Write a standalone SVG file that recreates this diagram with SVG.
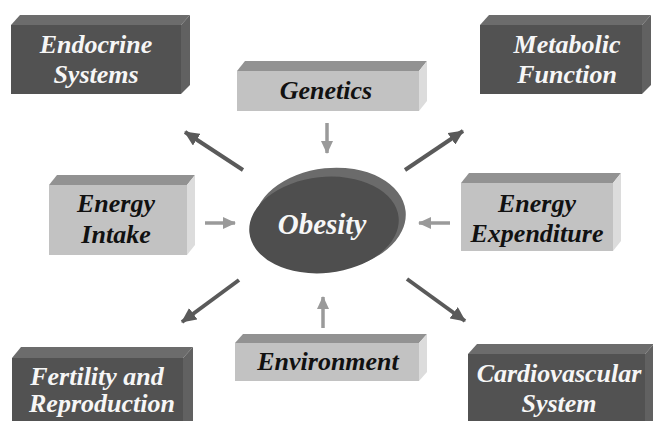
<svg xmlns="http://www.w3.org/2000/svg" width="653" height="421" viewBox="0 0 653 421">
  <style>
    .dfront { fill: #525252; }
    .dtop { fill: #6c6c6c; }
    .dside { fill: #616161; }
    .lfront { fill: #c2c2c2; }
    .ltop { fill: #929292; }
    .lside { fill: #dcdcdc; }
    .lbl { font-family: 'Liberation Serif', 'Times New Roman', serif; font-size: 26px; font-weight: bold; font-style: italic; text-anchor: middle; }
    .big { font-size: 29px; }
    .lbl-w { fill: #f6f6f6; }
    .lbl-k { fill: #111111; }
    .out { stroke: #5a5a5a; stroke-width: 4; fill: none; }
    .in { stroke: #9a9a9a; stroke-width: 3.5; fill: none; }
  </style>
  <defs>
    <marker id="headDark" markerUnits="userSpaceOnUse" markerWidth="16" markerHeight="14" refX="14" refY="7" orient="auto">
      <path d="M0,0 L15,7 L0,14 Z" fill="#5a5a5a"/>
    </marker>
    <marker id="headLight" markerUnits="userSpaceOnUse" markerWidth="14" markerHeight="14" refX="12" refY="7" orient="auto">
      <path d="M0,1 L13,7 L0,13 Z" fill="#9a9a9a"/>
    </marker>
  </defs>

  <rect width="653" height="421" fill="#ffffff"/>

  <!-- connectors -->
  <g id="connectors">
    <line class="out" x1="243" y1="170" x2="185" y2="132" marker-end="url(#headDark)"/>
    <line class="out" x1="405" y1="170" x2="463" y2="131" marker-end="url(#headDark)"/>
    <line class="out" x1="239" y1="280" x2="182" y2="322" marker-end="url(#headDark)"/>
    <line class="out" x1="407" y1="279" x2="465" y2="321" marker-end="url(#headDark)"/>
    <line class="in" x1="327" y1="123" x2="327" y2="153" marker-end="url(#headLight)"/>
    <line class="in" x1="205" y1="223" x2="235" y2="223" marker-end="url(#headLight)"/>
    <line class="in" x1="450" y1="223" x2="419" y2="223" marker-end="url(#headLight)"/>
    <line class="in" x1="323" y1="328" x2="323" y2="297" marker-end="url(#headLight)"/>
  </g>

  <!-- central node -->
  <g id="obesity">
    <ellipse cx="330" cy="219" rx="76" ry="51" transform="rotate(-6 330 219)" fill="#6b6b6b"/>
    <ellipse cx="324" cy="225" rx="75" ry="48" transform="rotate(-6 324 225)" fill="#4e4e4e"/>
    <text class="lbl big lbl-w" x="322" y="234">Obesity</text>
  </g>

  <!-- outcome boxes (dark) -->
  <g id="endocrine">
    <polygon class="dtop" points="11,25 20,15 190,15 181,25"/>
    <polygon class="dside" points="181,25 190,15 190,85 181,94"/>
    <rect class="dfront" x="11" y="25" width="170" height="69"/>
    <text class="lbl lbl-w" x="96" y="53">Endocrine</text>
    <text class="lbl lbl-w" x="96" y="83">Systems</text>
  </g>

  <g id="metabolic">
    <polygon class="dtop" points="480,25 489,15 651,15 642,25"/>
    <polygon class="dside" points="642,25 651,15 651,85 642,94"/>
    <rect class="dfront" x="480" y="25" width="162" height="69"/>
    <text class="lbl lbl-w" x="567" y="53">Metabolic</text>
    <text class="lbl lbl-w" x="567" y="83">Function</text>
  </g>

  <g id="fertility">
    <polygon class="dtop" points="12,358 21,347 193,347 183,358"/>
    <polygon class="dside" points="183,358 193,347 193,421 183,421"/>
    <rect class="dfront" x="12" y="358" width="171" height="63"/>
    <text class="lbl lbl-w" x="97" y="385">Fertility and</text>
    <text class="lbl lbl-w" x="102" y="412">Reproduction</text>
  </g>

  <g id="cardiovascular">
    <polygon class="dtop" points="468,354 477,344 654,344 645,354"/>
    <polygon class="dside" points="645,354 654,344 654,421 645,421"/>
    <rect class="dfront" x="468" y="354" width="177" height="67"/>
    <text class="lbl lbl-w" x="559" y="382">Cardiovascular</text>
    <text class="lbl lbl-w" x="559" y="412">System</text>
  </g>

  <!-- factor boxes (light) -->
  <g id="genetics">
    <polygon class="ltop" points="237,71 245,61 427,61 419,71"/>
    <polygon class="lside" points="419,71 427,61 427,101 419,111"/>
    <rect class="lfront" x="237" y="71" width="182" height="40"/>
    <text class="lbl lbl-k" x="326" y="99">Genetics</text>
  </g>

  <g id="energy-intake">
    <polygon class="ltop" points="49,185 57,175 195,175 187,185"/>
    <polygon class="lside" points="187,185 195,175 195,245 187,255"/>
    <rect class="lfront" x="49" y="185" width="138" height="70"/>
    <text class="lbl lbl-k" x="116" y="212">Energy</text>
    <text class="lbl lbl-k" x="116" y="243">Intake</text>
  </g>

  <g id="energy-expenditure">
    <polygon class="ltop" points="461,183 469,173 621,173 613,183"/>
    <polygon class="lside" points="613,183 621,173 621,241 613,251"/>
    <rect class="lfront" x="461" y="183" width="152" height="68"/>
    <text class="lbl lbl-k" x="537" y="212">Energy</text>
    <text class="lbl lbl-k" x="537" y="242">Expenditure</text>
  </g>

  <g id="environment">
    <polygon class="ltop" points="235,343 243,334 427,334 419,343"/>
    <polygon class="lside" points="419,343 427,334 427,372 419,381"/>
    <rect class="lfront" x="235" y="343" width="184" height="38"/>
    <text class="lbl lbl-k" x="328" y="370">Environment</text>
  </g>
</svg>
